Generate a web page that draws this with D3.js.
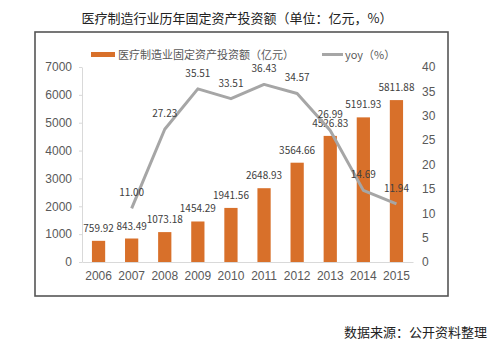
<!DOCTYPE html>
<html>
<head>
<meta charset="utf-8">
<script src="https://cdn.jsdelivr.net/npm/d3@7"></script>
<style>
  html, body { margin: 0; padding: 0; background: #fff; }
  svg { display: block; font-family: "Noto Sans CJK SC", "Noto Sans", sans-serif; }
</style>
</head>
<body>
<svg id="chart" width="500" height="340"></svg>
<script>
// Annual fixed-asset investment in medical manufacturing (100M CNY) and YoY growth (%)
const years = ["2006", "2007", "2008", "2009", "2010", "2011", "2012", "2013", "2014", "2015"];
const investment = [759.92, 843.49, 1073.18, 1454.29, 1941.56, 2648.93, 3564.66, 4526.83, 5191.93, 5811.88];
const yoyYears = ["2007", "2008", "2009", "2010", "2011", "2012", "2013", "2014", "2015"];
const yoy = [11.00, 27.23, 35.51, 33.51, 36.43, 34.57, 26.99, 14.69, 11.94];
const leftTicks = [0, 1000, 2000, 3000, 4000, 5000, 6000, 7000];
const rightTicks = [0, 5, 10, 15, 20, 25, 30, 35, 40];

const titleText = "医疗制造行业历年固定资产投资额（单位：亿元，%）";
const barLegend = "医疗制造业固定资产投资额（亿元）";
const lineLegend = "yoy（%）";
const sourceText = "数据来源：公开资料整理";

const barColor = "#D8702A";
const lineColor = "#A6A6A6";
const axisText = "#595959";
const labelText = "#404040";

const svg = d3.select("#chart");

// Title
svg.append("text")
  .attr("x", 237).attr("y", 23)
  .attr("text-anchor", "middle")
  .attr("font-size", 13)
  .attr("fill", "#222")
  .text(titleText);

// Frame around the plot
svg.append("rect")
  .attr("x", 35).attr("y", 32)
  .attr("width", 413).attr("height", 264)
  .attr("fill", "none")
  .attr("stroke", "#555")
  .attr("stroke-width", 1.6);

const plot = { left: 82, right: 413, top: 67, bottom: 262 };

const x = d3.scaleBand().domain(years).range([plot.left, plot.right]).paddingInner(0.6).paddingOuter(0.3);
const yL = d3.scaleLinear().domain([0, 7000]).range([plot.bottom, plot.top]);
const yR = d3.scaleLinear().domain([0, 40]).range([plot.bottom, plot.top]);

// Left axis
const gL = svg.append("g").attr("transform", `translate(${plot.left},0)`)
  .call(d3.axisLeft(yL).tickValues(leftTicks).tickFormat(d3.format("d"))
    .tickSizeInner(3).tickSizeOuter(0).tickPadding(7));
gL.select(".domain").attr("stroke", "#D9D9D9");
gL.selectAll(".tick line").attr("stroke", "#D9D9D9");
gL.selectAll("text").attr("font-size", 12).attr("fill", axisText).attr("font-family", null);

// Right axis (labels only)
const gR = svg.append("g").attr("transform", `translate(${plot.right},0)`)
  .call(d3.axisRight(yR).tickValues(rightTicks).tickFormat(d3.format("d")).tickSize(0).tickPadding(9));
gR.select(".domain").remove();
gR.selectAll("text").attr("font-size", 12).attr("fill", axisText).attr("font-family", null);

// Bottom axis
const gB = svg.append("g").attr("transform", `translate(0,${plot.bottom})`)
  .call(d3.axisBottom(x).tickSize(0).tickPadding(9));
gB.select(".domain").attr("stroke", "#D9D9D9");
gB.selectAll("text").attr("font-size", 12).attr("fill", axisText).attr("font-family", null);

// Bars
svg.append("g").selectAll("rect")
  .data(years.map((yr, i) => ({ yr, v: investment[i] })))
  .join("rect")
  .attr("x", d => x(d.yr))
  .attr("y", d => yL(d.v))
  .attr("width", x.bandwidth())
  .attr("height", d => yL(0) - yL(d.v))
  .attr("fill", barColor);

// Bar value labels
svg.append("g").selectAll("text")
  .data(years.map((yr, i) => ({ yr, v: investment[i] })))
  .join("text")
  .attr("x", d => x(d.yr) + x.bandwidth() / 2)
  .attr("y", d => yL(d.v) - 9)
  .attr("text-anchor", "middle")
  .attr("font-size", 10)
  .attr("fill", labelText)
  .text(d => d.v.toFixed(2));

// YoY line
const linePts = yoyYears.map((yr, i) => ({ yr, v: yoy[i] }));
svg.append("path")
  .datum(linePts)
  .attr("fill", "none")
  .attr("stroke", lineColor)
  .attr("stroke-width", 3)
  .attr("stroke-linejoin", "round")
  .attr("d", d3.line().x(d => x(d.yr) + x.bandwidth() / 2).y(d => yR(d.v)));

// YoY labels
svg.append("g").selectAll("text")
  .data(linePts)
  .join("text")
  .attr("x", d => x(d.yr) + x.bandwidth() / 2)
  .attr("y", d => yR(d.v) - 12)
  .attr("text-anchor", "middle")
  .attr("font-size", 10)
  .attr("fill", labelText)
  .text(d => d.v.toFixed(2));

// Legend
const lg = svg.append("g");
lg.append("rect").attr("x", 91).attr("y", 52).attr("width", 24).attr("height", 5).attr("fill", barColor);
lg.append("text").attr("x", 118).attr("y", 58.5).attr("font-size", 11).attr("fill", axisText).text(barLegend);
lg.append("line").attr("x1", 322).attr("x2", 343).attr("y1", 54.5).attr("y2", 54.5)
  .attr("stroke", lineColor).attr("stroke-width", 3);
lg.append("text").attr("x", 345).attr("y", 58.5).attr("font-size", 11).attr("fill", axisText).text(lineLegend);

// Source note
svg.append("text")
  .attr("x", 487).attr("y", 337)
  .attr("text-anchor", "end")
  .attr("font-size", 13)
  .attr("fill", "#222")
  .text(sourceText);
</script>
</body>
</html>
